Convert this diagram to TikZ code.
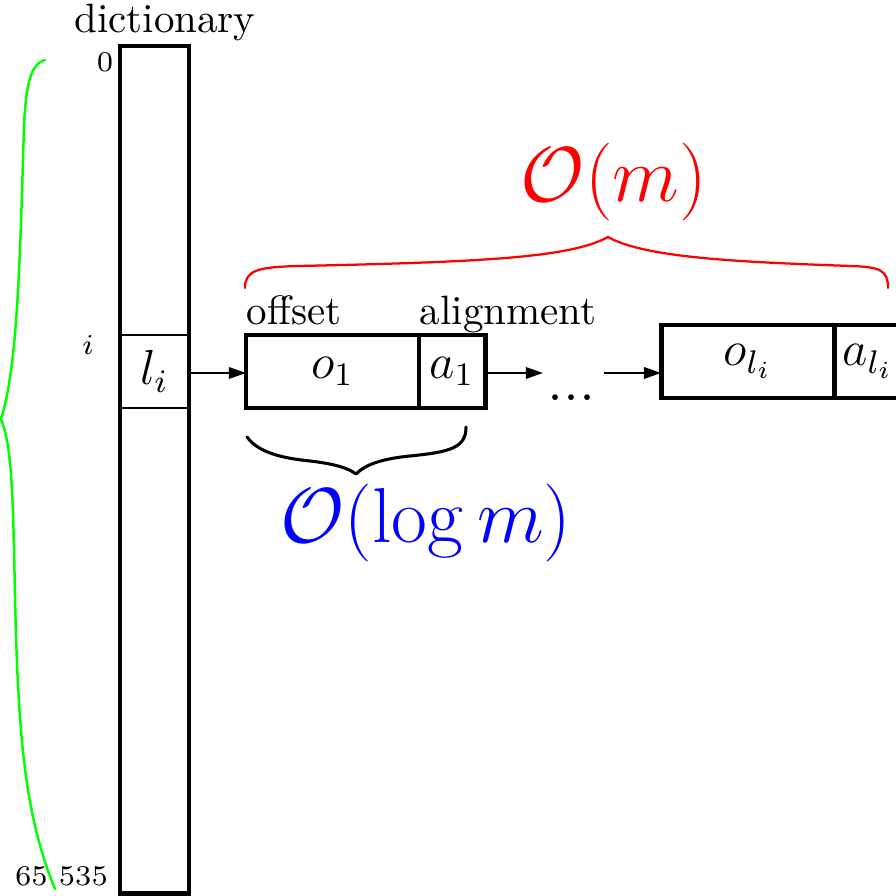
\documentclass[tikz,border=0pt]{standalone}
\usepackage{fix-cm}
\usepackage{amsmath}
\usepackage{amssymb}
\usepackage{tikz}
\usetikzlibrary{arrows.meta,positioning}

\begin{document}
\begin{tikzpicture}[
    x=0.2439pt, y=0.2439pt,
    node distance=0mm,
    box/.style={draw, line width=1.2pt, minimum height=17.8pt, inner sep=0pt, outer sep=0pt, font=\large},
    idx/.style={font=\scriptsize, anchor=base, inner sep=0pt},
    cost/.style={font=\fontsize{19pt}{23pt}\selectfont},
    arr/.style={-{Triangle[length=4.2pt, width=2.8pt]}, line width=0.5pt},
    brc/.style={line width=#1, line join=round, line cap=round}
]
\useasboundingbox (0,0) rectangle (896,896);
\clip (0,0) rectangle (896,896);

% dictionary column
\node[draw, line width=1.2pt, minimum width=16.83pt, minimum height=206.8pt, inner sep=0pt] (dict) at (154.5,426) {};
\node[draw, line width=0.5pt, minimum width=16.83pt, minimum height=17.8pt, inner sep=0pt, font=\large] (li) at (154.5,524.5) {$l_i$};
\node[anchor=base] (dictlbl) at (165,863) {dictionary};
\node[idx] (n0) at (105,824) {0};
\node[idx] (ni) at (88,541) {$i$};
\node[idx] (nmax) at (61.5,10) {65 535};

% list of (offset, alignment) pairs
\node[box, minimum width=42.2pt] (o1) at (332.5,524.5) {$o_1$};
\node[box, minimum width=16.1pt, right=of o1] (a1) {$a_1$};
\node[box, minimum width=42.4pt] (oli) at (748,534.5) {$o_{l_i}$};
\node[box, minimum width=16.1pt, right=of oli] (ali) {$a_{l_i}$};
\node[anchor=base west, inner sep=0pt] (offlbl) at (246,571) {offset};
\node[anchor=base west, inner sep=0pt] (alilbl) at (419,571) {alignment};
\node[anchor=base, inner sep=0pt, font=\Large] (dots) at (571.5,495) {...};

\coordinate (gapin) at (543,523);
\coordinate (gapout) at (604,523);
\draw[arr] (li.east |- gapin) -- (o1.west |- gapin);
\draw[arr] (a1.east |- gapin) -- (gapin);
\draw[arr] (gapout) -- (oli.west |- gapout);

% costs
\draw[red, brc=0.55pt] (245,608) .. controls (245,626) and (258,629) .. (300,630)
    .. controls (480,634) and (570,638) .. (608,659)
    .. controls (645,638) and (740,634) .. (850,630)
    .. controls (880,629) and (888,626) .. (888,608);
\node[red, cost] (costm) at (614,714) {$\mathcal{O}(m)$};
\draw[brc=0.75pt] (247,459) .. controls (258,444) and (280,438) .. (310,435)
    .. controls (335,432) and (348,428) .. (356,422)
    .. controls (365,431) and (380,437) .. (410,440)
    .. controls (450,444) and (466,448) .. (466,469);
\node[blue, cost] (costlog) at (426,372.5) {$\mathcal{O}(\log m)$};
\draw[green, brc=0.6pt] (45,836) .. controls (30,832) and (26,810) .. (24,770)
    .. controls (20,640) and (18,530) .. (1,477)
    .. controls (12,450) and (13,400) .. (15,300)
    .. controls (18,160) and (25,80) .. (55,7);
\end{tikzpicture}
\end{document}
